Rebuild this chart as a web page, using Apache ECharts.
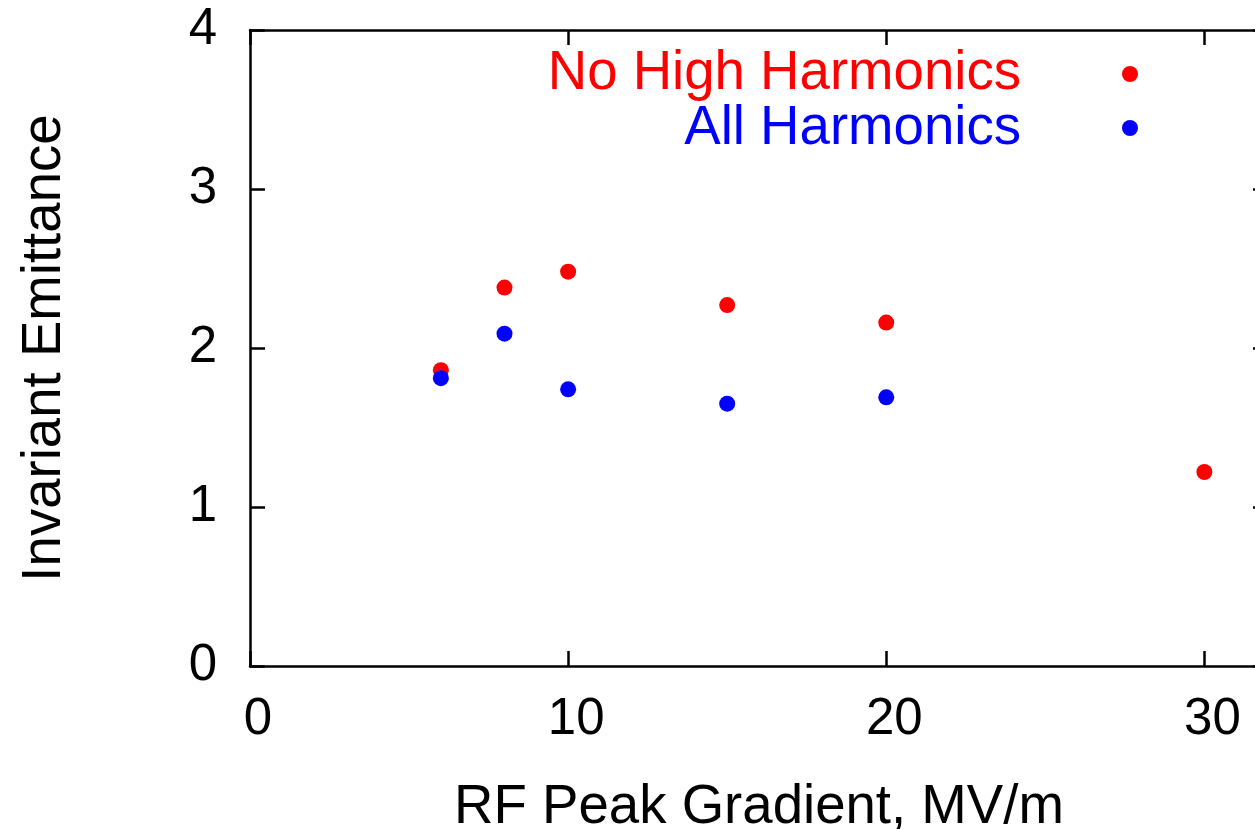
<!DOCTYPE html>
<html>
<head>
<meta charset="utf-8">
<script src="https://cdn.jsdelivr.net/npm/echarts@6/dist/echarts.min.js"></script>
<style>
html,body{margin:0;padding:0;background:#fff;}
#chart{width:1255px;height:829px;}
</style>
</head>
<body>
<div id="chart"></div>
<script>
const gradients = [6, 8, 10, 15, 20, 30];
const noHighHarmonics = [1.86, 2.38, 2.48, 2.27, 2.16, 1.22];
const allHarmonicsX = [6, 8, 10, 15, 20];
const allHarmonics = [1.81, 2.09, 1.74, 1.65, 1.69];
const xTitle = 'RF Peak Gradient, MV/m';
const yTitle = 'Invariant Emittance';
const seriesNames = ['No High Harmonics', 'All Harmonics'];

const FONT = '"Liberation Sans", Arial, Helvetica, sans-serif';
const chart = echarts.init(document.getElementById('chart'));
const axisLine = {show: true, onZero: false, lineStyle: {color: '#000', width: 2.5}};
const tick = {show: true, inside: true, length: 15, lineStyle: {color: '#000', width: 2.5}};
const legendFont = 'normal 54.6px ' + FONT;

chart.setOption({
  backgroundColor: '#fff',
  animation: false,
  grid: {left: 250, top: 30, width: 1018, height: 636, outerBoundsMode: 'none', containLabel: false},
  xAxis: [{
    type: 'value', min: 0, max: 32, interval: 10,
    axisLine: axisLine, axisTick: tick, splitLine: {show: false},
    axisLabel: {color: '#000', fontSize: 51, fontFamily: FONT, margin: 28, showMaxLabel: false,
      padding: [0, 0, 0, 16],
      formatter: v => (v % 10 === 0 ? String(v) : '')},
    name: xTitle, nameLocation: 'middle', nameGap: 114,
    nameTextStyle: {color: '#000', fontSize: 54.6, fontFamily: FONT}
  }, {
    type: 'value', min: 0, max: 32, interval: 10, position: 'top',
    axisLine: axisLine, axisTick: tick, splitLine: {show: false}, axisLabel: {show: false}
  }],
  yAxis: [{
    type: 'value', min: 0, max: 4, interval: 1,
    axisLine: axisLine, axisTick: tick, splitLine: {show: false},
    axisLabel: {color: '#000', fontSize: 51, fontFamily: FONT, margin: 33},
    name: yTitle, nameLocation: 'middle', nameGap: 178,
    nameTextStyle: {color: '#000', fontSize: 54.6, fontFamily: FONT}
  }, {
    type: 'value', min: 0, max: 4, interval: 1, position: 'right',
    axisLine: axisLine, axisTick: tick, splitLine: {show: false}, axisLabel: {show: false}
  }],
  series: [{
    name: seriesNames[0], type: 'scatter', symbol: 'circle', symbolSize: 16,
    itemStyle: {color: '#ff0000', opacity: 1},
    data: gradients.map((x, i) => [x, noHighHarmonics[i]])
  }, {
    name: seriesNames[1], type: 'scatter', symbol: 'circle', symbolSize: 16,
    itemStyle: {color: '#0000ff', opacity: 1},
    data: allHarmonicsX.map((x, i) => [x, allHarmonics[i]])
  }],
  graphic: [
    {type: 'text', x: 1021, y: 74, style: {text: seriesNames[0], font: legendFont, fill: '#ff0000', align: 'right', verticalAlign: 'middle'}},
    {type: 'text', x: 1021, y: 129, style: {text: seriesNames[1], font: legendFont, fill: '#0000ff', align: 'right', verticalAlign: 'middle'}},
    {type: 'circle', shape: {cx: 1130, cy: 74, r: 8}, style: {fill: '#ff0000'}},
    {type: 'circle', shape: {cx: 1130, cy: 128, r: 8}, style: {fill: '#0000ff'}}
  ]
});
</script>
</body>
</html>
